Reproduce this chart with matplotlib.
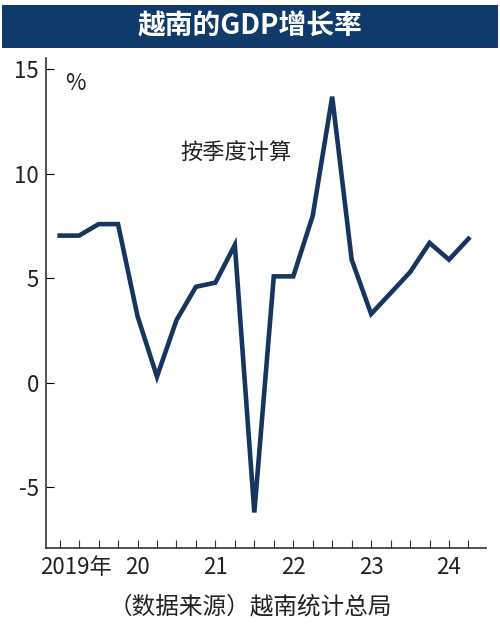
import matplotlib
matplotlib.use("Agg")
import matplotlib.pyplot as plt
from matplotlib.patches import Rectangle

plt.rcParams['font.family'] = ['Noto Sans CJK SC', 'DejaVu Sans']

quarters = list(range(22))  # 2019Q1 .. 2024Q2
growth = [7.05, 7.05, 7.6, 7.6, 3.2, 0.3, 3.0, 4.6, 4.8, 6.6, -6.2, 5.1,
          5.1, 8.0, 13.7, 5.9, 3.3, 4.3, 5.3, 6.7, 5.9, 6.9]
year_labels = ['2019年', '20', '21', '22', '23', '24']
year_pos = [0, 4, 8, 12, 16, 20]
y_ticks = [15, 10, 5, 0, -5]

navy = '#0f3a6a'
fig = plt.figure(figsize=(5.0, 6.35), dpi=100)
fig.add_artist(Rectangle((0.004, 1 - 48/635), 0.992, 43/635, transform=fig.transFigure,
                         facecolor=navy, edgecolor='none'))
fig.text(0.5, 1 - 26/635, '越南的GDP增长率', color='white', fontsize=20, fontweight='bold',
         ha='center', va='center')

ax = fig.add_axes([0.092, 1 - 548/635, 0.88, (548 - 58)/635])
ax.plot(quarters, growth, color='#16365f', lw=3.3, solid_joinstyle='miter')
ax.set_xlim(-0.7, 21.9)
ax.set_ylim(-7.9, 15.55)
for s in ['top', 'right']:
    ax.spines[s].set_visible(False)
for s in ['left', 'bottom']:
    ax.spines[s].set_color('#333333')
    ax.spines[s].set_linewidth(1.2)
ax.set_yticks(y_ticks)
ax.set_yticklabels([str(v) for v in y_ticks], fontsize=16, color='#222222')
ax.tick_params(axis='y', direction='in', length=6, pad=5)
ax.set_xticks(quarters)
ax.set_xticklabels(['' for _ in quarters])
ax.tick_params(axis='x', direction='in', length=6, color='#333333')
for p, l in zip(year_pos, year_labels):
    if p:
        ax.text(p, -8.3, l, fontsize=16, ha='center', va='top', color='#222222', clip_on=False)
    else:
        ax.text(-1.0, -8.3, l, fontsize=16, ha='left', va='top', color='#222222', clip_on=False)
ax.text(0.3, 14.0, '%', fontsize=16, color='#222222')
ax.text(6.2, 10.7, '按季度计算', fontsize=16, color='#222222')
fig.text(0.5, 1 - 607/635, '（数据来源）越南统计总局', fontsize=17, ha='center', va='center',
         color='#222222')
fig.savefig('out.png', dpi=100)
